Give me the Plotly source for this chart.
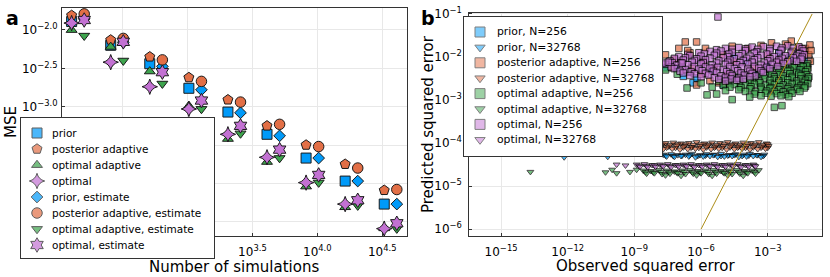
import numpy as np
import plotly.graph_objects as go

W, H = 830, 277
FONT = "DejaVu Sans"
BLUE, ORANGE, GREEN, PURPLE, GOLD = "#009AF9", "#E26F46", "#3DA44D", "#C271D2", "#AC8D18"

# ---------------- panel a : MSE vs number of simulations (log10 MSE) ----------------
n_sims = [128, 256, 512, 1024, 2048, 4096, 8192, 16384, 32768]
est_shift = 1.25  # estimate markers are drawn slightly to the right of their group
mse_prior             = [-1.89, -2.20, -2.44, -2.76, -3.07, -3.36, -3.67, -3.97, -4.27]
mse_post_adaptive     = [-1.81, -2.13, -2.35, -2.62, -2.91, -3.25, -3.50, -3.75, -4.09]
mse_opt_adaptive      = [-2.00, -2.22, -2.54, -2.99, -3.42, -3.72, -4.04, -4.31, -4.585]
mse_optimal           = [-1.91, -2.42, -2.74, -3.03, -3.36, -3.66, -3.99, -4.27, -4.59]
mse_prior_est         = [-1.855, -2.16, -2.475, -2.78, -3.08, -3.38, -3.67, -3.97, -4.27]
mse_post_adaptive_est = [-1.79, -2.11, -2.39, -2.67, -2.94, -3.23, -3.52, -3.80, -4.08]
mse_opt_adaptive_est  = [-2.075, -2.40, -2.70, -3.03, -3.35, -3.67, -3.99, -4.29, -4.59]
mse_optimal_est       = [-1.87, -2.155, -2.55, -2.92, -3.25, -3.56, -3.89, -4.22, -4.52]
a_xticks = [2.5, 3.0, 3.5, 4.0, 4.5]
a_yticks = [-2.0, -2.5, -3.0, -3.5, -4.0, -4.5]

a_series = [
    ("prior", mse_prior, "square", BLUE, 10, False),
    ("posterior adaptive", mse_post_adaptive, "pentagon", ORANGE, 10.5, False),
    ("optimal adaptive", mse_opt_adaptive, "triangle-up", GREEN, 9.5, False),
    ("optimal", mse_optimal, "star-diamond", PURPLE, 11, False),
    ("prior, estimate", mse_prior_est, "diamond", BLUE, 9, True),
    ("posterior adaptive, estimate", mse_post_adaptive_est, "circle", ORANGE, 10.5, True),
    ("optimal adaptive, estimate", mse_opt_adaptive_est, "triangle-down", GREEN, 9.5, True),
    ("optimal, estimate", mse_optimal_est, "hexagram", PURPLE, 11, True),
]

# ---------------- panel b : predicted vs observed squared error (log10 x, log10 y) ----------------
prior_256 = [(-7.9,-2.05),(-7.6,-2.25),(-7.1,-2.26),(-6.8,-2.45),(-6.36,-2.6),(-6.18,-2.49),(-5.5,-2.3),
             (-5.0,-2.65),(-4.5,-2.0),(-4.0,-2.1),(-3.5,-2.4),(-3.0,-2.2),(-2.5,-1.9),(-2.0,-2.0),
             (-1.6,-2.3),(-1.22,-2.19),(-1.15,-2.05)]
prior_32768 = [(-12.16,-4.33),(-10.2,-4.32),
               (-7.7,-4.27),(-7.35,-4.26),(-7.05,-4.28),(-6.7,-4.27),(-6.4,-4.25),(-6.05,-4.28),(-5.75,-4.26),
               (-5.4,-4.27),(-5.1,-4.25),(-4.75,-4.28),(-4.45,-4.26),(-4.1,-4.27),(-3.8,-4.25),(-3.45,-4.28),(-3.15,-4.27),
               (-7.6,-4.29),(-7.25,-4.30),(-6.85,-4.29),(-6.5,-4.28),(-6.15,-4.30),(-5.8,-4.29),(-5.45,-4.28),
               (-5.1,-4.30),(-4.8,-4.29),(-4.5,-4.28),(-4.15,-4.30),(-3.85,-4.29),(-3.5,-4.28),(-3.2,-4.30),
               (-7.55,-4.31),(-7.2,-4.32),(-6.9,-4.30),(-6.55,-4.31),(-6.25,-4.33),(-5.9,-4.31),(-5.6,-4.30),
               (-5.25,-4.32),(-4.95,-4.31),(-4.6,-4.30),(-4.3,-4.32),(-3.95,-4.31),(-3.65,-4.30),(-3.3,-4.32)]
post_256 = [(-8.0,-2.0),(-7.6,-1.95),(-7.3,-2.25),(-7.0,-1.8),(-6.9,-2.1),(-6.71,-1.65),(-6.5,-1.9),
            (-6.4,-2.25),(-6.2,-1.65),(-6.2,-2.65),(-6.0,-2.4),(-5.9,-2.1),(-5.8,-1.8),(-5.6,-2.55),
            (-5.4,-2.25),(-5.2,-2.6),(-5.0,-1.95),(-4.9,-2.62),(-4.8,-2.4),(-4.5,-2.1),(-3.9,-1.8),
            (-3.6,-2.25),(-3.0,-1.95),(-2.83,-1.67),(-2.5,-2.1),(-1.94,-1.63),(-1.6,-1.78),(-1.3,-1.8),
            (-1.15,-1.95),(-1.1,-1.72),(-1.08,-2.1),(-1.2,-2.25),(-1.05,-1.85),(-6.6,-1.85),(-7.2,-2.05),
            (-3.3,-1.73),(-2.2,-1.7),(-4.6,-1.75)]
post_32768 = [(-7.6,-4.00),(-7.25,-3.99),(-6.9,-4.01),(-6.55,-4.00),(-6.2,-3.98),(-5.85,-4.01),(-5.5,-3.99),
              (-5.15,-4.00),(-4.8,-3.98),(-4.45,-4.01),(-4.1,-3.99),(-3.75,-4.00),(-3.4,-3.98),(-3.05,-4.01),
              (-7.75,-4.035),(-7.4,-4.04),(-7.05,-4.03),(-6.7,-4.035),(-6.35,-4.04),(-6.0,-4.03),(-5.65,-4.035),
              (-5.3,-4.04),(-4.95,-4.03),(-4.6,-4.035),(-4.25,-4.04),(-3.9,-4.03),(-3.55,-4.035),(-3.2,-4.04),(-3.0,-4.03),
              (-7.8,-4.07),(-7.45,-4.08),(-7.1,-4.06),(-6.75,-4.07),(-6.4,-4.09),(-6.05,-4.07),(-5.7,-4.06),
              (-5.35,-4.08),(-5.0,-4.07),(-4.65,-4.06),(-4.3,-4.08),(-3.95,-4.07),(-3.6,-4.06),(-3.25,-4.08),(-2.96,-4.07),
              (-7.55,-4.105),(-7.15,-4.11),(-6.8,-4.10),(-6.45,-4.105),(-6.1,-4.11),(-5.75,-4.10),(-5.4,-4.105),
              (-5.05,-4.11),(-4.7,-4.10),(-4.35,-4.105),(-4.0,-4.11),(-3.65,-4.10),(-3.3,-4.105),(-3.0,-4.11),
              (-7.7,-4.14),(-7.3,-4.13),(-6.95,-4.15),(-6.6,-4.14),(-6.25,-4.13),(-5.9,-4.15),(-5.55,-4.14),
              (-5.2,-4.13),(-4.85,-4.15),(-4.5,-4.14),(-4.15,-4.13),(-3.8,-4.15),(-3.45,-4.14),(-3.1,-4.13)]
optad_256 = [(-2.0,-2.15),(-1.6,-2.13),(-1.2,-2.16),
             (-2.3,-2.20),(-1.9,-2.19),(-1.5,-2.20),(-1.25,-2.21),
             (-2.6,-2.26),(-2.2,-2.24),(-1.8,-2.25),(-1.4,-2.23),
             (-2.95,-2.30),(-2.45,-2.29),(-2.0,-2.31),(-1.55,-2.30),(-1.2,-2.29),
             (-3.3,-2.36),(-2.9,-2.34),(-2.5,-2.35),(-2.1,-2.33),(-1.7,-2.36),(-1.3,-2.34),
             (-4.3,-2.40),(-3.85,-2.41),(-3.35,-2.39),(-2.85,-2.40),(-2.45,-2.41),(-2.0,-2.39),(-1.6,-2.40),(-1.25,-2.41),
             (-4.6,-2.46),(-4.1,-2.44),(-3.6,-2.45),(-3.1,-2.43),(-2.7,-2.46),(-2.3,-2.44),(-1.9,-2.45),(-1.5,-2.43),(-1.15,-2.46),
             (-4.95,-2.50),(-4.5,-2.49),(-4.05,-2.51),(-3.6,-2.50),(-3.15,-2.49),(-2.7,-2.51),(-2.3,-2.50),(-1.9,-2.49),(-1.5,-2.51),(-1.18,-2.50),
             (-5.2,-2.56),(-4.8,-2.54),(-4.3,-2.55),(-3.8,-2.53),(-3.4,-2.56),(-2.9,-2.54),(-2.5,-2.55),(-2.1,-2.53),(-1.7,-2.56),(-1.3,-2.54),
             (-4.75,-2.60),(-4.25,-2.61),(-3.8,-2.59),(-3.35,-2.60),(-2.9,-2.61),(-2.5,-2.59),(-2.1,-2.60),(-1.7,-2.61),(-1.35,-2.59),
             (-5.0,-2.66),(-4.5,-2.64),(-4.0,-2.65),(-3.6,-2.63),(-3.1,-2.66),(-2.7,-2.64),(-2.3,-2.65),(-1.9,-2.63),(-1.5,-2.66),(-1.2,-2.62),
             (-4.7,-2.70),(-4.2,-2.71),(-3.75,-2.69),(-3.3,-2.70),(-2.85,-2.71),(-2.45,-2.69),(-2.05,-2.70),(-1.65,-2.71),(-1.3,-2.68),
             (-4.3,-2.76),(-3.8,-2.74),(-3.3,-2.75),(-2.9,-2.73),(-2.5,-2.76),(-2.1,-2.74),(-1.7,-2.75),(-1.35,-2.72),
             (-4.0,-2.80),(-3.55,-2.81),(-3.05,-2.79),(-2.7,-2.80),(-2.3,-2.81),(-1.95,-2.79),(-1.55,-2.80),
             (-3.6,-2.86),(-3.1,-2.84),(-2.6,-2.85),(-2.2,-2.87),(-1.9,-2.84),
             (-3.3,-2.90),(-2.85,-2.91),(-2.4,-2.90),(-2.05,-2.92),
             (-7.07,-2.40),(-6.58,-2.35),(-6.63,-2.72),(-5.73,-2.88),(-5.3,-2.86),(-4.6,-2.99),(-3.81,-2.93),
             (-2.7,-3.17),(-2.36,-3.13),(-7.6,-2.3),(-6.0,-2.6),(-5.5,-2.7),(-4.9,-2.78)]
optad_32768 = [(-13.68,-4.67),(-10.3,-4.68),(-10.0,-4.62),(-9.8,-4.70),(-9.2,-4.67),(-8.9,-4.62),
               (-8.6,-4.64),(-8.25,-4.65),(-7.9,-4.63),(-7.55,-4.64),(-7.2,-4.66),(-6.85,-4.64),(-6.5,-4.63),(-6.15,-4.65),
               (-5.8,-4.64),(-5.45,-4.63),(-5.1,-4.65),(-4.75,-4.64),(-4.4,-4.63),(-4.05,-4.65),(-3.7,-4.64),(-3.4,-4.63),
               (-8.5,-4.675),(-8.15,-4.68),(-7.8,-4.67),(-7.45,-4.675),(-7.1,-4.68),(-6.75,-4.67),(-6.4,-4.675),(-6.05,-4.68),
               (-5.7,-4.67),(-5.35,-4.675),(-5.0,-4.68),(-4.65,-4.67),(-4.3,-4.675),(-3.95,-4.68),(-3.6,-4.67),
               (-8.45,-4.71),(-8.1,-4.70),(-7.75,-4.72),(-7.4,-4.71),(-7.05,-4.70),(-6.7,-4.72),(-6.35,-4.71),(-6.0,-4.70),
               (-5.65,-4.72),(-5.3,-4.71),(-4.95,-4.70),(-4.6,-4.72),(-4.25,-4.71),(-3.9,-4.70),(-3.55,-4.71),
               (-7.6,-4.75),(-6.9,-4.76),(-6.2,-4.75),(-5.5,-4.76),(-4.8,-4.75),(-4.1,-4.76)]
opt_256 = [(-4.9,-1.80),(-4.3,-1.78),(-3.7,-1.77),(-3.2,-1.76),(-2.6,-1.75),(-2.1,-1.74),(-1.6,-1.76),
           (-5.3,-1.83),(-4.6,-1.82),(-4.0,-1.81),(-3.45,-1.82),(-2.9,-1.80),(-2.35,-1.79),(-1.85,-1.80),(-1.45,-1.81),
           (-6.1,-1.90),(-5.6,-1.87),(-5.1,-1.86),(-4.6,-1.89),(-4.0,-1.85),(-3.5,-1.88),(-2.9,-1.86),(-2.4,-1.84),(-1.9,-1.87),(-1.4,-1.86),
           (-6.6,-1.94),(-5.85,-1.92),(-5.3,-1.91),(-4.75,-1.93),(-4.15,-1.92),(-3.6,-1.91),(-3.05,-1.93),(-2.5,-1.92),(-1.95,-1.91),(-1.55,-1.92),
           (-7.0,-1.99),(-6.5,-1.97),(-6.0,-1.98),(-5.4,-1.96),(-4.8,-1.99),(-4.3,-1.97),(-3.8,-1.98),(-3.3,-1.96),(-2.7,-1.99),(-2.2,-1.97),(-1.7,-1.98),(-1.35,-1.95),
           (-7.2,-2.03),(-6.7,-2.02),(-6.2,-2.04),(-5.6,-2.03),(-5.0,-2.02),(-4.5,-2.04),(-3.95,-2.03),(-3.45,-2.02),(-2.9,-2.04),(-2.35,-2.03),(-1.85,-2.02),(-1.45,-2.00),
           (-7.4,-2.09),(-6.8,-2.07),(-6.3,-2.08),(-5.8,-2.06),(-5.2,-2.09),(-4.7,-2.07),(-4.1,-2.08),(-3.6,-2.06),(-3.0,-2.09),(-2.5,-2.07),(-2.0,-2.08),(-1.5,-2.05),
           (-7.3,-2.13),(-6.9,-2.14),(-6.4,-2.12),(-5.9,-2.13),(-5.3,-2.14),(-4.8,-2.12),(-4.25,-2.13),(-3.7,-2.12),(-3.15,-2.14),(-2.6,-2.12),(-2.1,-2.11),(-1.7,-2.10),
           (-7.6,-2.17),(-7.1,-2.19),(-6.6,-2.18),(-6.0,-2.16),(-5.5,-2.19),(-4.9,-2.17),(-4.4,-2.18),(-3.9,-2.16),(-3.3,-2.19),(-2.8,-2.17),(-2.3,-2.15),
           (-7.35,-2.23),(-6.85,-2.24),(-6.3,-2.22),(-5.8,-2.23),(-5.25,-2.24),(-4.7,-2.22),(-4.15,-2.23),(-3.6,-2.22),(-3.05,-2.24),(-2.55,-2.22),
           (-7.2,-2.27),(-6.7,-2.29),(-6.1,-2.28),(-5.6,-2.26),(-5.0,-2.29),(-4.5,-2.27),(-3.9,-2.28),(-3.4,-2.26),(-2.9,-2.27),
           (-6.95,-2.33),(-6.45,-2.34),(-5.95,-2.32),(-5.45,-2.33),(-4.85,-2.34),(-4.35,-2.32),(-3.8,-2.33),(-3.3,-2.32),
           (-6.8,-2.37),(-6.3,-2.39),(-5.8,-2.38),(-5.3,-2.36),(-4.7,-2.39),(-4.2,-2.37),(-3.7,-2.38),(-3.2,-2.36),
           (-6.5,-2.43),(-5.65,-2.42),(-5.1,-2.44),(-4.6,-2.43),(-4.05,-2.42),(-3.55,-2.44),
           (-6.0,-2.46),(-5.4,-2.48),(-4.9,-2.47),(-4.3,-2.49),(-3.8,-2.46),
           (-5.2,-2.52),(-4.65,-2.51),(-4.1,-2.52),(-4.9,-2.56),(-4.4,-2.54),
           (-5.24,-1.07),(-7.7,-2.14),(-7.47,-2.12),(-6.85,-2.14)]
opt_32768 = [(-9.8,-4.50),(-9.4,-4.52),
             (-8.9,-4.50),(-8.55,-4.49),(-8.2,-4.51),(-7.85,-4.50),(-7.5,-4.49),(-7.15,-4.51),(-6.8,-4.50),(-6.45,-4.49),
             (-6.1,-4.51),(-5.75,-4.50),(-5.4,-4.49),(-5.05,-4.51),(-4.7,-4.50),(-4.35,-4.49),(-4.0,-4.51),(-3.65,-4.50),
             (-8.8,-4.525),(-8.45,-4.53),(-8.1,-4.52),(-7.75,-4.525),(-7.4,-4.53),(-7.05,-4.52),(-6.7,-4.525),(-6.35,-4.53),
             (-6.0,-4.52),(-5.65,-4.525),(-5.3,-4.53),(-4.95,-4.52),(-4.6,-4.525),(-4.25,-4.53),(-3.9,-4.52),(-3.6,-4.525),
             (-8.75,-4.55),(-8.4,-4.56),(-8.05,-4.55),(-7.7,-4.54),(-7.35,-4.56),(-7.0,-4.55),(-6.65,-4.54),(-6.3,-4.56),
             (-5.95,-4.55),(-5.6,-4.54),(-5.25,-4.56),(-4.9,-4.55),(-4.55,-4.54),(-4.2,-4.56),(-3.85,-4.55),(-3.55,-4.54)]
diag_log10 = [-6.0, -1.0]
b_xticks = [-15, -12, -9, -6, -3]
b_yticks = [-1, -2, -3, -4, -5, -6]

b_series = [
    ("prior, N=256", prior_256, "square", BLUE, 6.5),
    ("prior, N=32768", prior_32768, "triangle-down", BLUE, 6),
    ("posterior adaptive, N=256", post_256, "square", ORANGE, 6.5),
    ("posterior adaptive, N=32768", post_32768, "triangle-down", ORANGE, 6),
    ("optimal adaptive, N=256", optad_256, "square", GREEN, 6.5),
    ("optimal adaptive, N=32768", optad_32768, "triangle-down", GREEN, 6),
    ("optimal, N=256", opt_256, "square", PURPLE, 6.5),
    ("optimal, N=32768", opt_32768, "triangle-down", PURPLE, 6),
]


def sup(v, fmt):
    return "10<sup>" + format(v, fmt).replace("-", "\u2212") + "</sup>"


fig = go.Figure()

# panel a marks
for label, vals, sym, col, size, est in a_series:
    xs = np.array(n_sims, dtype=float) * (est_shift if est else 1.0)
    fig.add_trace(go.Scatter(
        x=xs, y=10.0 ** np.array(vals), mode="markers", name=label, showlegend=False,
        marker=dict(symbol=sym, size=size, color=col, line=dict(color="#1a1a1a", width=1)),
        xaxis="x", yaxis="y"))

# panel b marks
for label, pts, sym, col, size in b_series:
    arr = np.array(pts)
    fig.add_trace(go.Scatter(
        x=10.0 ** arr[:, 0], y=10.0 ** arr[:, 1], mode="markers", name=label, showlegend=False,
        marker=dict(symbol=sym, size=size, color=col, opacity=0.7, line=dict(color="black", width=1)),
        xaxis="x2", yaxis="y2"))
fig.add_trace(go.Scatter(x=10.0 ** np.array(diag_log10), y=10.0 ** np.array(diag_log10), mode="lines",
                         line=dict(color=GOLD, width=1), showlegend=False, xaxis="x2", yaxis="y2"))

# legend boxes (drawn as small overlay subplots so the white box covers the data below)
LA = dict(x0=21, y0=118, x1=214, y1=258, mx=16, tx=29, top=15, step=16, fs=10.5)
LB = dict(x0=464, y0=17, x1=662, y1=156, mx=16, tx=31, top=15, step=15.4, fs=10.8)

annotations = []
leg_a_y = [LA["top"] + LA["step"] * i for i in range(len(a_series))]
fig.add_trace(go.Scatter(
    x=[LA["mx"]] * len(a_series), y=leg_a_y, mode="markers", showlegend=False,
    marker=dict(symbol=[s[2] for s in a_series], size=[s[4] for s in a_series],
                color=[s[3] for s in a_series], line=dict(color="#1a1a1a", width=1)),
    xaxis="x3", yaxis="y3"))
for (label, *_), yy in zip(a_series, leg_a_y):
    annotations.append(dict(x=LA["tx"], y=yy, xref="x3", yref="y3", text=label, showarrow=False,
                            xanchor="left", yanchor="middle", font=dict(size=LA["fs"], color="black")))

leg_b_y = [LB["top"] + LB["step"] * i for i in range(len(b_series))]
fig.add_trace(go.Scatter(
    x=[LB["mx"]] * len(b_series), y=leg_b_y, mode="markers", showlegend=False,
    marker=dict(symbol=[s[2] for s in b_series], size=[10 if s[2] == "square" else 9 for s in b_series],
                color=[s[3] for s in b_series], opacity=0.5, line=dict(color="black", width=1)),
    xaxis="x4", yaxis="y4"))
for (label, *_), yy in zip(b_series, leg_b_y):
    annotations.append(dict(x=LB["tx"], y=yy, xref="x4", yref="y4", text=label, showarrow=False,
                            xanchor="left", yanchor="middle", font=dict(size=LB["fs"], color="black")))

# titles and panel letters
TF = dict(size=15, color="black")
C = dict(xref="paper", yref="paper", showarrow=False, xanchor="center", yanchor="middle")
annotations += [
    dict(x=11 / W, y=1 - 122 / H, text="MSE", textangle=-90, font=TF, **C),
    dict(x=234 / W, y=1 - 267 / H, text="Number of simulations", font=TF, **C),
    dict(x=428 / W, y=1 - 124 / H, text="Predicted squared error", textangle=-90, font=TF, **C),
    dict(x=645 / W, y=1 - 266 / H, text="Observed squared error", font=TF, **C),
    dict(x=12 / W, y=1 - 18 / H, text="<b>a</b>", font=dict(size=19, color="black"), **C),
    dict(x=428 / W, y=1 - 18 / H, text="<b>b</b>", font=dict(size=19, color="black"), **C),
]

axis_common = dict(showline=True, mirror=True, linecolor="#333333", linewidth=1, ticks="inside", ticklen=3,
                   tickcolor="#333333", showgrid=True, gridcolor="#e8e8e8", gridwidth=1, zeroline=False,
                   tickfont=dict(size=12, color="black"), automargin=False, fixedrange=True)
box_common = dict(showline=True, mirror=True, linecolor="#333333", linewidth=1, ticks="", showgrid=False,
                  zeroline=False, showticklabels=False, automargin=False, fixedrange=True)

fig.update_layout(
    width=W, height=H, margin=dict(l=0, r=0, t=0, b=0), autosize=False,
    paper_bgcolor="white", plot_bgcolor="white", font=dict(family=FONT, color="black"),
    hovermode=False, showlegend=False, annotations=annotations,
    xaxis=dict(domain=[62 / W, 406.5 / W], type="log", range=[2.033, 4.687], anchor="y", ticklabelstandoff=5,
               tickmode="array", tickvals=[10 ** v for v in a_xticks], ticktext=[sup(v, ".1f") for v in a_xticks], **axis_common),
    yaxis=dict(domain=[1 - 236 / H, 1 - 7.5 / H], type="log", range=[-4.686, -1.707], anchor="x", ticklabelstandoff=1,
               tickmode="array", tickvals=[10 ** v for v in a_yticks], ticktext=[sup(v, ".1f") for v in a_yticks], **axis_common),
    xaxis2=dict(domain=[469.3 / W, 821.7 / W], type="log", range=[-16.43, -0.57], anchor="y2", ticklabelstandoff=5,
                tickmode="array", tickvals=[10.0 ** v for v in b_xticks], ticktext=[sup(v, "d") for v in b_xticks], **axis_common),
    yaxis2=dict(domain=[1 - 236 / H, 1 - 12.7 / H], type="log", range=[-6.16, -0.97], anchor="x2", ticklabelstandoff=4,
                tickmode="array", tickvals=[10.0 ** v for v in b_yticks], ticktext=[sup(v, "d") for v in b_yticks], **axis_common),
    xaxis3=dict(domain=[LA["x0"] / W, LA["x1"] / W], range=[0, LA["x1"] - LA["x0"]], anchor="y3", **box_common),
    yaxis3=dict(domain=[1 - LA["y1"] / H, 1 - LA["y0"] / H], range=[LA["y1"] - LA["y0"], 0], anchor="x3", **box_common),
    xaxis4=dict(domain=[LB["x0"] / W, LB["x1"] / W], range=[0, LB["x1"] - LB["x0"]], anchor="y4", **box_common),
    yaxis4=dict(domain=[1 - LB["y1"] / H, 1 - LB["y0"] / H], range=[LB["y1"] - LB["y0"], 0], anchor="x4", **box_common),
)

fig.write_html("out.html", config={"displayModeBar": False},
               post_script="document.body.style.margin='0px';")
